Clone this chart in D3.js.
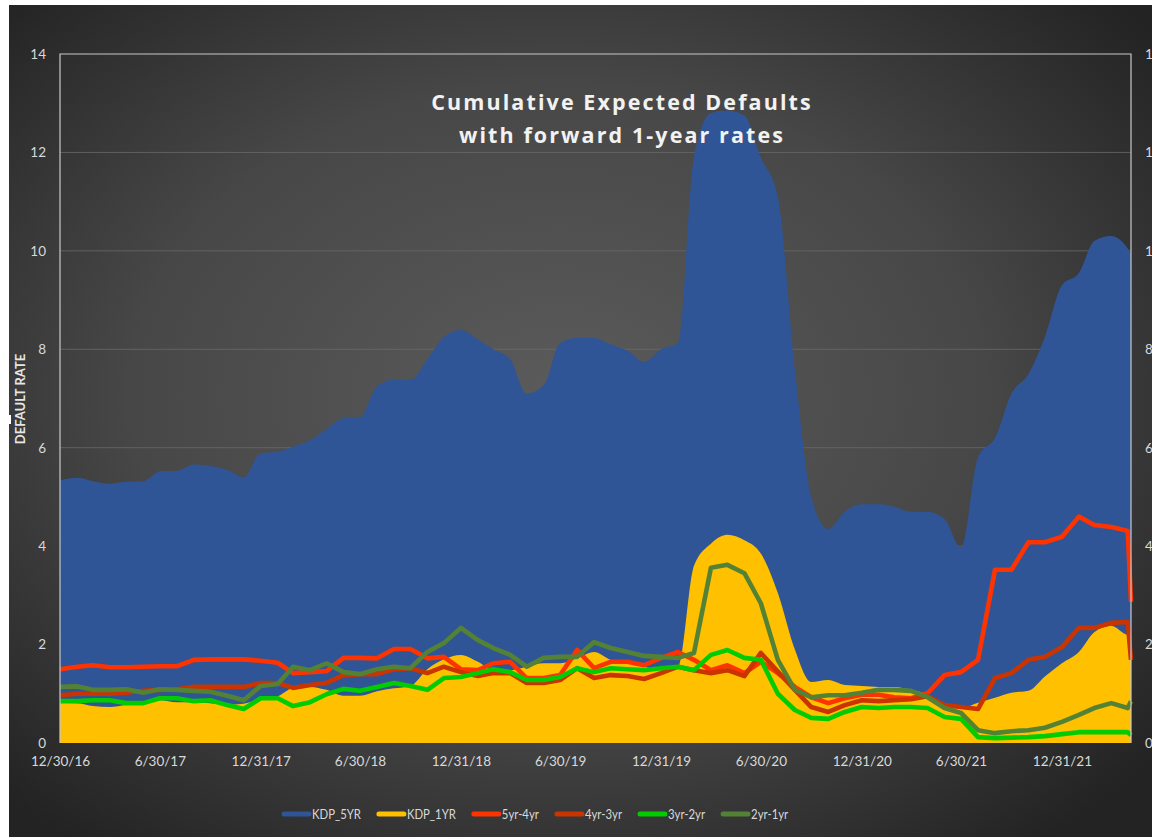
<!DOCTYPE html>
<html><head><meta charset="utf-8">
<script src="https://cdn.jsdelivr.net/npm/d3@7"></script>
<style>html,body{margin:0;padding:0;background:#fff;overflow:hidden}</style>
</head><body><svg id="c" width="1152" height="837"></svg>
<script>
// ---------- DATA ----------
const dates = ["2016-12-30","2017-01-31","2017-02-28","2017-03-31","2017-04-30","2017-05-31","2017-06-30","2017-07-31","2017-08-31","2017-09-30","2017-10-31","2017-11-30",
"2017-12-31","2018-01-31","2018-02-28","2018-03-31","2018-04-30","2018-05-31","2018-06-30","2018-07-31","2018-08-31","2018-09-30","2018-10-31","2018-11-30",
"2018-12-31","2019-01-31","2019-02-28","2019-03-31","2019-04-30","2019-05-31","2019-06-30","2019-07-31","2019-08-31","2019-09-30","2019-10-31","2019-11-30",
"2019-12-31","2020-01-31","2020-02-29","2020-03-31","2020-04-30","2020-05-31","2020-06-30","2020-07-31","2020-08-31","2020-09-30","2020-10-31","2020-11-30",
"2020-12-31","2021-01-31","2021-02-28","2021-03-31","2021-04-30","2021-05-31","2021-06-30","2021-07-31","2021-08-31","2021-09-30","2021-10-31","2021-11-30",
"2021-12-31","2022-01-31","2022-02-28","2022-03-31","2022-04-30","2022-05-06"];

const kdp5yr = [5.34,5.39,5.32,5.27,5.31,5.32,5.52,5.53,5.66,5.63,5.55,5.40,
5.89,5.92,6.02,6.15,6.38,6.60,6.62,7.25,7.38,7.38,7.80,8.25,
8.39,8.20,8.00,7.80,7.10,7.27,8.13,8.23,8.23,8.10,7.97,7.74,
8.00,8.13,11.90,12.80,12.85,12.75,11.90,11.10,7.60,5.00,4.35,4.70,
4.85,4.85,4.80,4.70,4.70,4.55,3.97,5.80,6.20,7.10,7.50,8.25,
9.30,9.55,10.20,10.30,10.05,9.95];

const kdp1yr = [0.82,0.81,0.75,0.73,0.77,0.80,0.87,0.83,0.83,0.81,0.78,0.80,
0.88,0.95,1.12,1.14,1.08,0.96,0.96,1.05,1.11,1.16,1.50,1.70,
1.79,1.65,1.48,1.48,1.55,1.62,1.62,1.72,1.85,1.69,1.62,1.55,
1.48,1.55,3.60,4.05,4.23,4.12,3.85,3.05,1.90,1.24,1.28,1.18,
1.16,1.14,1.14,1.08,0.98,0.77,0.71,0.82,0.92,1.02,1.06,1.35,
1.62,1.85,2.25,2.38,2.20,2.25];

const fwd5y4y = [1.50,1.55,1.58,1.54,1.54,1.55,1.56,1.56,1.69,1.70,1.70,1.70,
1.67,1.63,1.42,1.44,1.46,1.73,1.73,1.72,1.91,1.91,1.72,1.75,
1.50,1.48,1.62,1.65,1.32,1.32,1.38,1.89,1.52,1.65,1.65,1.58,
1.73,1.85,1.69,1.48,1.58,1.42,1.65,1.42,1.14,0.93,0.81,0.91,
0.98,0.98,0.93,0.91,1.01,1.38,1.44,1.69,3.52,3.52,4.08,4.08,
4.19,4.60,4.43,4.39,4.31,2.87];

const fwd4y3y = [0.97,1.00,1.00,1.00,1.02,1.06,1.08,1.09,1.14,1.14,1.14,1.14,
1.22,1.22,1.12,1.18,1.22,1.38,1.40,1.40,1.50,1.52,1.42,1.55,
1.44,1.36,1.42,1.42,1.22,1.22,1.28,1.52,1.32,1.38,1.36,1.30,
1.42,1.55,1.48,1.42,1.48,1.36,1.83,1.45,1.08,0.73,0.63,0.77,
0.87,0.85,0.87,0.89,0.95,0.77,0.73,0.69,1.32,1.42,1.69,1.75,
1.95,2.34,2.34,2.44,2.46,1.69];

const fwd3y2y = [0.85,0.85,0.87,0.87,0.81,0.81,0.91,0.91,0.85,0.87,0.77,0.69,
0.91,0.91,0.75,0.83,0.99,1.10,1.06,1.14,1.22,1.16,1.08,1.32,
1.34,1.42,1.50,1.44,1.28,1.28,1.34,1.52,1.44,1.52,1.50,1.48,
1.52,1.55,1.48,1.79,1.89,1.73,1.69,1.00,0.67,0.51,0.49,0.63,
0.73,0.71,0.73,0.73,0.71,0.53,0.49,0.12,0.10,0.11,0.12,0.14,
0.18,0.22,0.22,0.22,0.22,0.16];

const fwd2y1y = [1.14,1.15,1.08,1.08,1.09,1.02,1.09,1.08,1.06,1.04,0.96,0.87,
1.16,1.20,1.55,1.48,1.62,1.44,1.40,1.50,1.55,1.52,1.85,2.03,
2.34,2.09,1.93,1.79,1.55,1.73,1.75,1.75,2.05,1.93,1.85,1.77,
1.75,1.73,1.83,3.56,3.62,3.45,2.84,1.69,1.08,0.93,0.97,0.97,
1.02,1.08,1.08,1.06,0.93,0.71,0.61,0.26,0.20,0.24,0.26,0.31,
0.43,0.57,0.71,0.81,0.71,0.85];

const xTickDates = ["2016-12-30","2017-06-30","2017-12-31","2018-06-30","2018-12-31","2019-06-30","2019-12-31","2020-06-30","2020-12-31","2021-06-30","2021-12-31"];
const xTickLabels = ["12/30/16","6/30/17","12/31/17","6/30/18","12/31/18","6/30/19","12/31/19","6/30/20","12/31/20","6/30/21","12/31/21"];
const yTicks = [0,2,4,6,8,10,12,14];

const seriesNames = ["KDP_5YR","KDP_1YR","5yr-4yr","4yr-3yr","3yr-2yr","2yr-1yr"];
const seriesColors = ["#2F5597","#FFC000","#FF3300","#C93400","#00CC00","#548235"];

const titleLines = ["Cumulative Expected Defaults","with forward 1-year rates"];
const yAxisTitle = "DEFAULT RATE";

// ---------- LAYOUT ----------
const parse = d3.timeParse("%Y-%m-%d");
const X = dates.map(parse);
const svg = d3.select("#c");
const defs = svg.append("defs");
const grad = defs.append("radialGradient").attr("id","bg")
  .attr("cx","48%").attr("cy","47%").attr("r","68%");
grad.append("stop").attr("offset","0%").attr("stop-color","#5b5b5b");
grad.append("stop").attr("offset","55%").attr("stop-color","#474747");
grad.append("stop").attr("offset","100%").attr("stop-color","#232323");

svg.append("rect").attr("width",1152).attr("height",837).attr("fill","#fff");
svg.append("rect").attr("x",9).attr("y",5).attr("width",1143).attr("height",832).attr("fill","url(#bg)");
svg.append("rect").attr("x",9).attr("y",415).attr("width",2).attr("height",9).attr("fill","#fff");

const pLeft = 60, pRight = 1131, pTop = 54, pBottom = 743;
const x = d3.scaleTime().domain([X[0], X[X.length-1]]).range([pLeft, pRight]);
const y = d3.scaleLinear().domain([0,14]).range([pBottom, pTop]);

// gridlines
svg.append("g").selectAll("line").data(yTicks.filter(v=>v>0 && v<14)).join("line")
  .attr("x1",pLeft).attr("x2",pRight).attr("y1",d=>y(d)).attr("y2",d=>y(d))
  .attr("stroke","#6a6a6a").attr("stroke-width",1).attr("opacity",0.8);

// areas
const area = vals => d3.area().x((d,i)=>x(X[i])).y0(y(0)).y1(d=>y(d)).curve(d3.curveMonotoneX)(vals);
svg.append("path").attr("d",area(kdp5yr)).attr("fill",seriesColors[0]);
svg.append("path").attr("d",area(kdp1yr)).attr("fill",seriesColors[1]);

// lines
const line = d3.line().x((d,i)=>x(X[i])).y(d=>y(d));
[fwd5y4y,fwd4y3y,fwd3y2y,fwd2y1y].forEach((s,k)=>{
  svg.append("path").attr("d",line(s)).attr("fill","none")
    .attr("stroke",seriesColors[k+2]).attr("stroke-width",4.6)
    .attr("stroke-linejoin","round").attr("stroke-linecap","butt");
});

// frame
svg.append("path").attr("d",`M${pLeft},${pBottom}V${pTop}H${pRight}V${pBottom}`)
  .attr("fill","none").attr("stroke","#c8c8c8").attr("stroke-width",1.2);

// axes
const font = "Lato, 'Open Sans', sans-serif";
const yAxisL = d3.axisLeft(y).tickValues(yTicks).tickSize(0).tickPadding(14);
const gL = svg.append("g").attr("transform",`translate(${pLeft},0)`).call(yAxisL);
gL.select(".domain").remove();
gL.selectAll("text").attr("fill","#d9d9d9").attr("font-size",13.5).attr("font-family",font);

const yAxisR = d3.axisRight(y).tickValues(yTicks).tickSize(0).tickPadding(14);
const gR = svg.append("g").attr("transform",`translate(${pRight},0)`).call(yAxisR);
gR.select(".domain").remove();
gR.selectAll("text").attr("fill","#d9d9d9").attr("font-size",13.5).attr("font-family",font);

const xAxis = d3.axisBottom(x).tickValues(xTickDates.map(parse)).tickSize(0).tickPadding(13)
  .tickFormat((d,i)=>xTickLabels[i]);
const gX = svg.append("g").attr("transform",`translate(0,${pBottom})`).call(xAxis);
gX.select(".domain").remove();
gX.selectAll("text").attr("fill","#d9d9d9").attr("font-size",13.5).attr("font-family",font);

// y axis title
svg.append("text").attr("transform","translate(25,399) rotate(-90)")
  .attr("text-anchor","middle").attr("font-family",font).attr("font-weight","bold")
  .attr("font-size",13).attr("fill","#e6e6e6").text(yAxisTitle);

// title
svg.append("g").selectAll("text").data(titleLines).join("text")
  .attr("x",622).attr("y",(d,i)=>110+i*33).attr("text-anchor","middle")
  .attr("font-family","'Open Sans', sans-serif").attr("font-weight","bold")
  .attr("font-size",21.5).attr("letter-spacing","2.1px").attr("fill","#f2f2f2").text(d=>d);

// legend
const lg = svg.append("g");
let lx = 282; const ly = 814;
seriesNames.forEach((n,i)=>{
  lg.append("line").attr("x1",lx+2).attr("x2",lx+27).attr("y1",ly).attr("y2",ly)
    .attr("stroke",seriesColors[i]).attr("stroke-width",5).attr("stroke-linecap","round");
  const t = lg.append("text").attr("x",lx+30).attr("y",ly).attr("dy","0.35em")
    .attr("font-family",font).attr("font-size",13.5)
    .attr("fill","#d9d9d9").text(n);
  const w = t.node().getComputedTextLength() * 0.84;
  t.attr("textLength", w).attr("lengthAdjust","spacingAndGlyphs");
  lx += 30 + w + 16;
});
</script></body></html>
